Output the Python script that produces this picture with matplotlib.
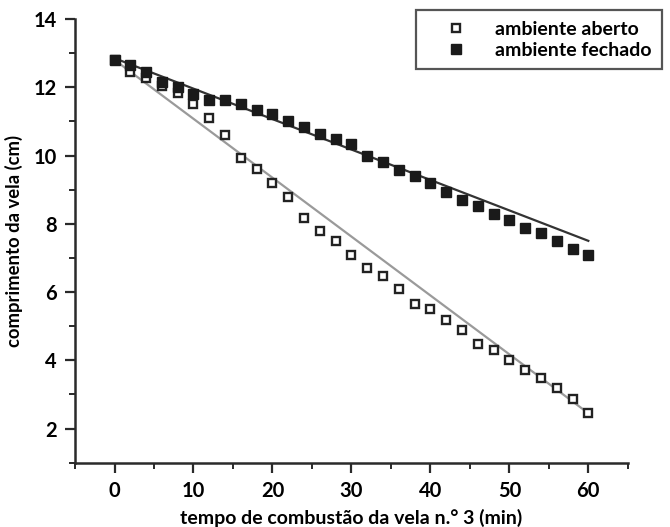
import matplotlib
matplotlib.use("Agg")
import matplotlib.pyplot as plt
from matplotlib.ticker import MultipleLocator

plt.rcParams['font.family'] = ['Lato', 'DejaVu Sans']
plt.rcParams['font.weight'] = 'bold'

# data
tempo = list(range(0, 62, 2))
aberto = [12.8, 12.45, 12.26, 12.03, 11.84, 11.52, 11.11, 10.59, 9.93, 9.6,
          9.19, 8.79, 8.17, 7.79, 7.50, 7.09, 6.70, 6.47, 6.08, 5.66,
          5.49, 5.18, 4.88, 4.49, 4.29, 4.00, 3.73, 3.48, 3.19, 2.86, 2.45]
fechado = [12.81, 12.65, 12.45, 12.16, 12.01, 11.81, 11.62, 11.62, 11.52, 11.32,
           11.23, 11.00, 10.83, 10.62, 10.49, 10.34, 10.00, 9.82, 9.59, 9.41,
           9.20, 8.93, 8.69, 8.53, 8.29, 8.11, 7.89, 7.74, 7.50, 7.26, 7.09]
fit_x = [0, 60]
fit_aberto = [12.8, 2.45]
fit_fechado = [12.85, 7.5]

labels = ['ambiente aberto', 'ambiente fechado']
xlabel = 'tempo de combustão da vela n.° 3 (min)'
ylabel = 'comprimento da vela (cm)'

fig = plt.figure(figsize=(6.7, 5.27), dpi=100)
ax = fig.add_axes([0.112, 0.122, 0.825, 0.842])

ax.plot(fit_x, fit_aberto, color='#9a9a9a', lw=1.6, zorder=1)
ax.plot(fit_x, fit_fechado, color='#333333', lw=1.6, zorder=1)
h1, = ax.plot(tempo, aberto, ls='none', marker='s', ms=6, mfc='white',
              mec='#222222', mew=1.7, zorder=3, label=labels[0])
h2, = ax.plot(tempo, fechado, ls='none', marker='s', ms=7, mfc='#1a1a1a',
              mec='#1a1a1a', mew=1, zorder=4, label=labels[1])

ax.set_xlim(-5, 65)
ax.set_ylim(1, 14)
ax.set_xticks(range(0, 61, 10))
ax.set_yticks(range(2, 15, 2))
ax.xaxis.set_minor_locator(MultipleLocator(5))
ax.yaxis.set_minor_locator(MultipleLocator(1))

for s in ['top', 'right']:
    ax.spines[s].set_visible(False)
for s in ['left', 'bottom']:
    ax.spines[s].set_linewidth(1.8)
    ax.spines[s].set_color('#2a2a2a')

ax.tick_params(which='major', direction='out', length=7, width=1.6,
               color='#2a2a2a', labelsize=14.5, pad=6)
ax.tick_params(which='minor', direction='out', length=4, width=1.4,
               color='#2a2a2a')
for lab in ax.get_xticklabels() + ax.get_yticklabels():
    lab.set_fontweight('bold')

ax.set_xlabel(xlabel, fontsize=14, fontweight='bold', labelpad=6)
ax.set_ylabel(ylabel, fontsize=13.3, fontweight='bold', labelpad=8)

leg = fig.legend(handles=[h1, h2], labels=labels, loc='upper right',
                 bbox_to_anchor=(0.988, 0.981), fancybox=False, frameon=True,
                 prop={'weight': 'bold', 'size': 14}, handletextpad=0.5,
                 borderpad=0.55, labelspacing=0.2, handlelength=3.0,
                 borderaxespad=0)
leg.get_frame().set_edgecolor('#2a2a2a')
leg.get_frame().set_linewidth(1.6)

fig.savefig('out.png', dpi=100)
